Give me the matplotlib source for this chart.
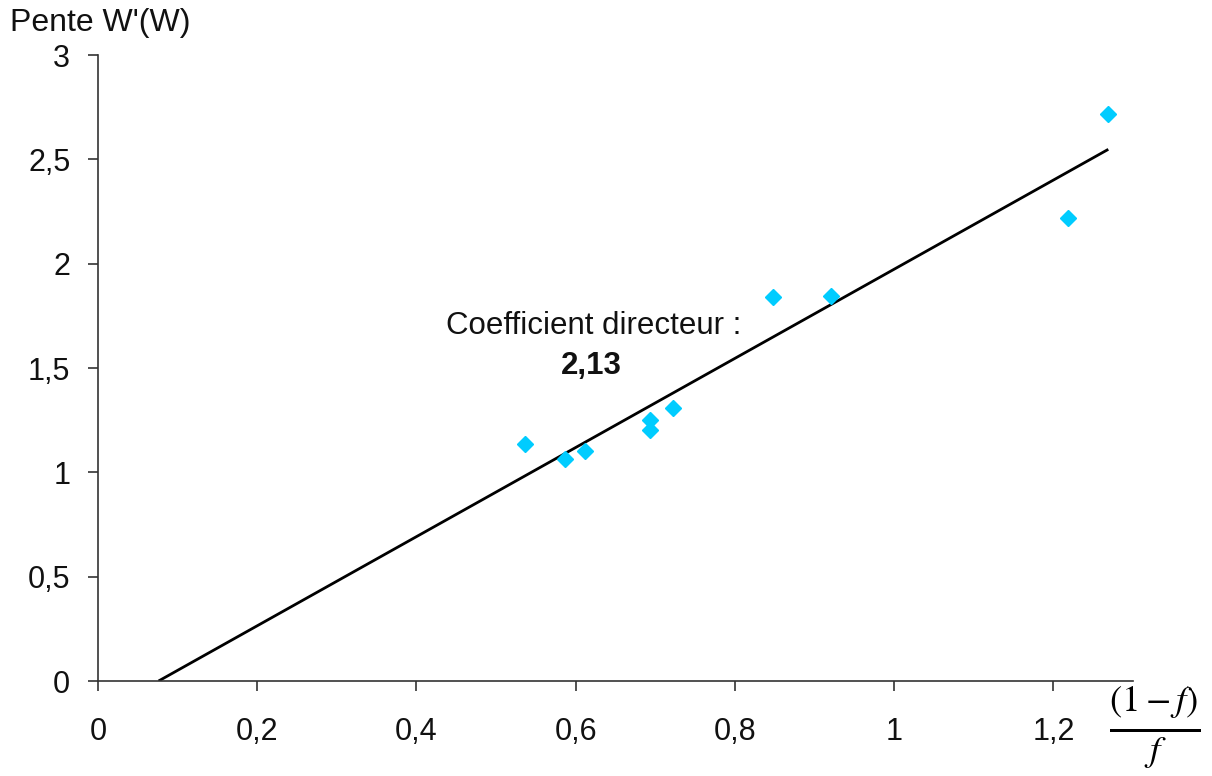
import matplotlib

matplotlib.use("Agg")
import matplotlib.pyplot as plt

plt.rcParams["font.family"] = ["Liberation Sans", "DejaVu Sans"]
plt.rcParams["mathtext.fontset"] = "stix"

# measured points (1-f)/f vs slope W'(W)
x_vals = [0.536, 0.587, 0.612, 0.693, 0.693, 0.722, 0.848, 0.921, 1.219, 1.269]
y_vals = [1.136, 1.064, 1.102, 1.250, 1.203, 1.308, 1.840, 1.845, 2.218, 2.717]

# linear trend, slope 2,13
line_x = [0.076, 1.269]
line_y = [0.0, 2.548]

x_ticks = [0, 0.2, 0.4, 0.6, 0.8, 1.0, 1.2]
x_labels = ["0", "0,2", "0,4", "0,6", "0,8", "1", "1,2"]
y_ticks = [0, 0.5, 1.0, 1.5, 2.0, 2.5, 3.0]
y_labels = ["0", "0,5", "1", "1,5", "2", "2,5", "3"]

fig = plt.figure(figsize=(12.12, 7.76), dpi=100)
fig.patch.set_facecolor("white")
ax = fig.add_axes([0.0809, 0.1224, 0.8539, 0.8067])

ax.plot(line_x, line_y, color="black", linewidth=2.0, solid_capstyle="butt")
ax.plot(x_vals, y_vals, linestyle="none", marker="D", markersize=8.5,
        markerfacecolor="#00CCFF", markeredgecolor="#00CCFF", zorder=3)

ax.set_xlim(0, 1.3)
ax.set_ylim(0, 3)
ax.set_xticks(x_ticks)
ax.set_xticklabels(x_labels)
ax.set_yticks(y_ticks)
ax.set_yticklabels(y_labels)

for spine in ("top", "right"):
    ax.spines[spine].set_visible(False)
for spine in ("left", "bottom"):
    ax.spines[spine].set_color("#333333")
    ax.spines[spine].set_linewidth(1.2)

ax.tick_params(axis="both", direction="out", length=7, width=1.2,
               color="#333333", labelsize=22, labelcolor="#111111")
ax.tick_params(axis="x", pad=19)
ax.tick_params(axis="y", pad=13)

ax.text(0.623, 1.70, "Coefficient directeur :", fontsize=22.5,
        ha="center", va="center", color="#111111")
ax.text(0.619, 1.51, "2,13", fontsize=22.5, fontweight="bold",
        ha="center", va="center", color="#111111")

fig.text(10 / 1212, 1 - 23 / 776, "Pente W'(W)", fontsize=23,
         ha="left", va="center", color="#111111")
fig.text(1155 / 1212, 1 - 728 / 776, r"$\frac{(1-f)}{f}$", fontsize=38,
         ha="center", va="center", color="black")

fig.savefig("out.png", dpi=100, facecolor="white")
plt.close(fig)
